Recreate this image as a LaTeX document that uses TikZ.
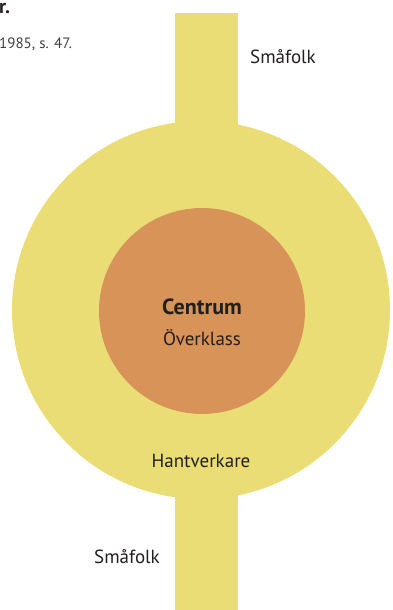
\documentclass[tikz,border=0pt]{standalone}
\usepackage{fontspec}
\setmainfont{PT Sans}
\definecolor{gul}{RGB}{234,221,118}
\definecolor{brun}{RGB}{216,148,88}
\definecolor{text}{RGB}{35,31,32}

\begin{document}
\begin{tikzpicture}[x=1pt,y=-1pt,text=text]
        \useasboundingbox (0,0) rectangle (393,610);
        % gatan genom staden
        \fill[gul] (175,13) rectangle (238,610);
        % yttre ring
        \fill[gul] (201,310) circle (189);
        % centrum
        \fill[brun] (202,311) circle (103);

        % texter
        \node[font=\fontsize{19}{22}\selectfont] (smaUpp) at (283,57) {Småfolk};
        \node[font=\fontsize{19}{22}\selectfont] (smaNed) at (127,557) {Småfolk};
        \node[font=\fontsize{19}{22}\selectfont] (hant) at (201,461) {Hantverkare};
        \node[font=\fontsize{22}{26}\selectfont\bfseries] (centrum) at (202,307) {Centrum};
        \node[font=\fontsize{19}{22}\selectfont] (over) at (202,338) {Överklass};

        % rubrikrester
        \node[anchor=west,inner sep=0pt,font=\fontsize{20}{24}\selectfont\bfseries] (rubrik) at (-1,9) {r.};
        \node[anchor=west,inner sep=0pt,font=\fontsize{15}{18}\selectfont,text=black!75] (kalla) at (-1,44) {1985, s. 47.};
    \end{tikzpicture}
\end{document}
